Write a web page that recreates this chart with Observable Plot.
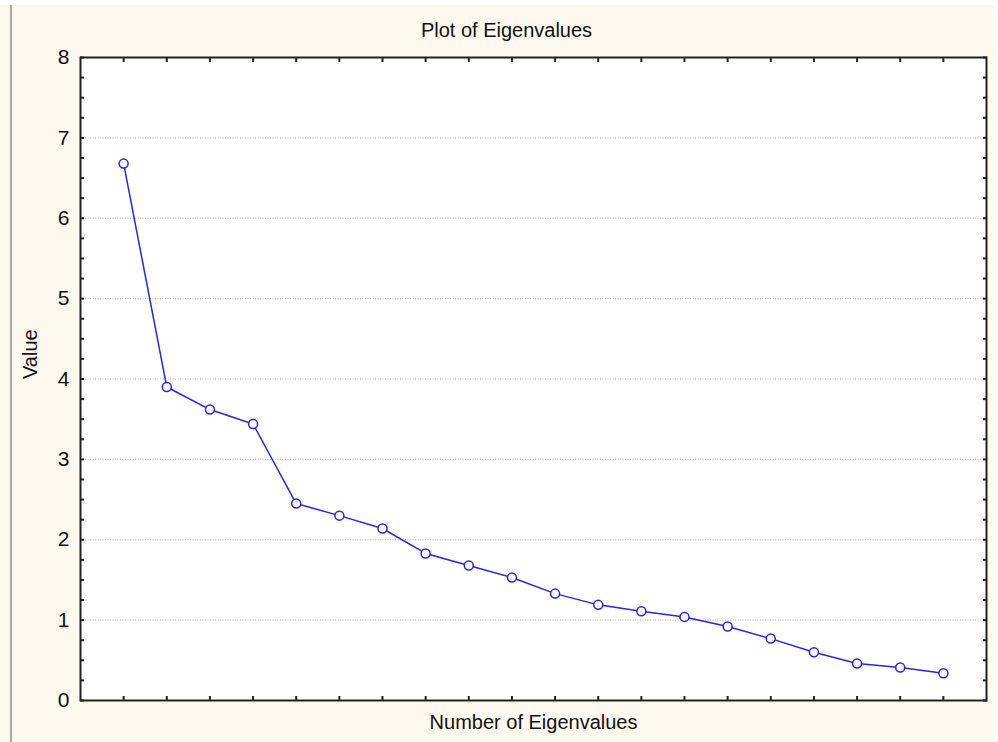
<!DOCTYPE html>
<html>
<head>
<meta charset="utf-8">
<script src="https://cdn.jsdelivr.net/npm/d3@7"></script>
<script src="https://cdn.jsdelivr.net/npm/@observablehq/plot@0.6"></script>
<style>
  html, body { margin: 0; padding: 0; background: #ffffff; }
  #page { position: relative; width: 998px; height: 742px; overflow: hidden; background: #ffffff; }
  #cream { position: absolute; left: 0; top: 5px; width: 995px; height: 737px; background: #fdf9ee; }
  #vline { position: absolute; left: 10px; top: 5px; width: 2px; height: 737px; background: #a8a8a8; }
  #chart { position: absolute; left: 0; top: 0; }
  svg { font-family: "Liberation Sans", Arial, sans-serif; }
</style>
</head>
<body>
<div id="page">
  <div id="cream"></div>
  <div id="vline"></div>
  <div id="chart"></div>
</div>
<script>
// Data
const eigenNumber = [1, 2, 3, 4, 5, 6, 7, 8, 9, 10, 11, 12, 13, 14, 15, 16, 17, 18, 19, 20];
const eigenValue  = [6.68, 3.90, 3.62, 3.44, 2.45, 2.30, 2.14, 1.83, 1.68, 1.53, 1.33, 1.19, 1.11, 1.04, 0.92, 0.77, 0.60, 0.46, 0.41, 0.34];
const yTickLabels = [0, 1, 2, 3, 4, 5, 6, 7, 8];
const yGridLines  = [1, 2, 3, 4, 5, 6, 7];
const yMinorTicks = [0, 0.25, 0.5, 0.75, 1, 1.25, 1.5, 1.75, 2, 2.25, 2.5, 2.75, 3, 3.25, 3.5, 3.75, 4, 4.25, 4.5, 4.75, 5, 5.25, 5.5, 5.75, 6, 6.25, 6.5, 6.75, 7, 7.25, 7.5, 7.75, 8];
const xTicks      = eigenNumber;
const titleText   = "Plot of Eigenvalues";
const xLabelText  = "Number of Eigenvalues";
const yLabelText  = "Value";

const data = eigenNumber.map((n, i) => ({n, v: eigenValue[i]}));

const chart = Plot.plot({
  width: 998,
  height: 742,
  marginLeft: 80,
  marginRight: 12,
  marginTop: 57,
  marginBottom: 42,
  style: {background: "transparent", fontFamily: "Liberation Sans, Arial, sans-serif", overflow: "visible"},
  x: {domain: [0, 21], axis: null},
  y: {domain: [0, 8], axis: null},
  marks: [
    Plot.frame({fill: "white", stroke: null}),
    Plot.gridY(yGridLines, {stroke: "#b4b4b4", strokeOpacity: 1, strokeDasharray: "1,1.5", strokeWidth: 1}),
    Plot.axisY(yMinorTicks, {anchor: "left", tickSize: -4, text: null, label: null, stroke: "#222", strokeWidth: 2}),
    Plot.axisY(yMinorTicks, {anchor: "right", tickSize: -4, text: null, label: null, stroke: "#222", strokeWidth: 2}),
    Plot.axisX(xTicks, {anchor: "bottom", tickSize: -4, text: null, label: null, stroke: "#222", strokeWidth: 2}),
    Plot.axisX(xTicks, {anchor: "top", tickSize: -4, text: null, label: null, stroke: "#222", strokeWidth: 2}),
    Plot.axisY(yTickLabels, {anchor: "left", tickSize: 0, tickPadding: 11, fontSize: 21, fill: "#111", label: null, tickFormat: d3.format("d")}),
    Plot.frame({stroke: "#222", strokeWidth: 2}),
    Plot.line(data, {x: "n", y: "v", stroke: "#2424ff", strokeWidth: 1.5}),
    Plot.dot(data, {x: "n", y: "v", r: 4.5, stroke: "#2424ff", strokeWidth: 1.5, fill: "white"}),
    Plot.text([titleText], {text: d => d, frameAnchor: "top", dx: -27, dy: -27, fontSize: 20, fill: "#111", lineAnchor: "middle"}),
    Plot.text([xLabelText], {text: d => d, frameAnchor: "bottom", dy: 22, fontSize: 20, fill: "#111", lineAnchor: "middle"}),
    Plot.text([yLabelText], {text: d => d, frameAnchor: "left", dx: -50, rotate: -90, fontSize: 20, fill: "#111", lineAnchor: "middle"})
  ]
});
document.getElementById("chart").appendChild(chart);
</script>
</body>
</html>
